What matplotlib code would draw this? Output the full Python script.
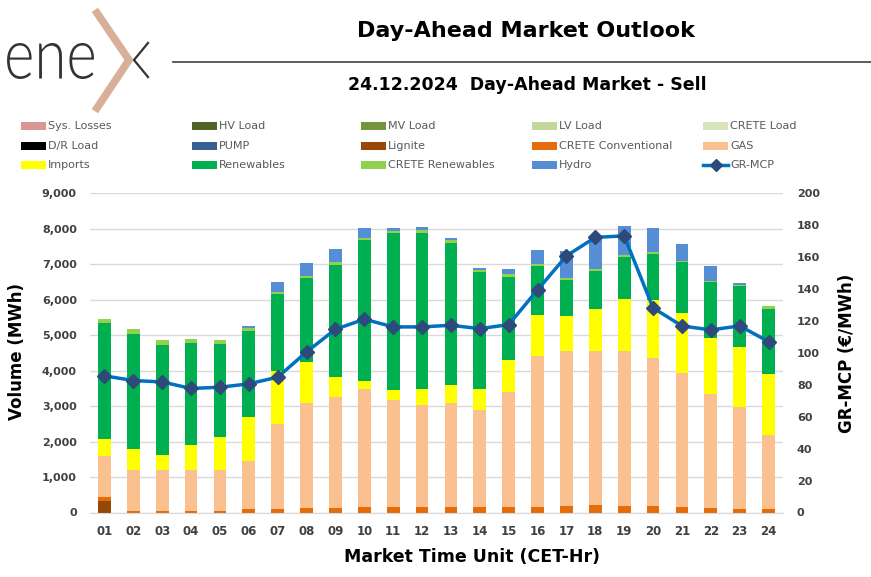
import matplotlib
matplotlib.use("Agg")
import matplotlib.pyplot as plt
import numpy as np
from matplotlib.patches import Rectangle, PathPatch
from matplotlib.lines import Line2D
from matplotlib.textpath import TextPath
from matplotlib.font_manager import FontProperties
from matplotlib.transforms import Affine2D

# Market time units (hours)
hours = ["%02d" % h for h in range(1, 25)]

# Volumes in MWh per category (stacked bottom -> top)
sys_losses = [0] * 24
hv_load = [0] * 24
mv_load = [0] * 24
lv_load = [0] * 24
crete_load = [0] * 24
dr_load = [0] * 24
pump = [0] * 24
lignite = [330] + [0] * 23
crete_conv = [110, 45, 45, 45, 45, 85, 95, 120, 130, 150, 145, 145,
              145, 145, 150, 160, 190, 205, 190, 190, 160, 140, 95, 95]
gas = [1140, 1150, 1150, 1150, 1150, 1380, 2400, 2970, 3120, 3320, 3020, 2880,
       2940, 2750, 3260, 4260, 4350, 4350, 4360, 4160, 3770, 3200, 2870, 2090]
imports = [500, 600, 420, 710, 930, 1240, 1490, 1150, 570, 230, 290, 460,
           500, 590, 890, 1150, 1010, 1180, 1480, 1640, 1690, 1590, 1710, 1710]
renewables = [3260, 3250, 3120, 2880, 2640, 2420, 2180, 2380, 3170, 3970, 4420, 4390,
              4010, 3300, 2350, 1380, 1000, 1070, 1180, 1300, 1430, 1560, 1700, 1850]
crete_ren = [120, 120, 130, 100, 100, 75, 65, 60, 65, 65, 65, 80,
             75, 65, 65, 60, 60, 60, 50, 60, 50, 50, 40, 65]
hydro = [0, 10, 0, 0, 0, 55, 265, 365, 365, 290, 95, 85,
         65, 55, 160, 395, 770, 915, 815, 675, 480, 415, 55, 0]

# GR-MCP price in EUR/MWh
gr_mcp = [85.6, 82.7, 81.8, 77.7, 78.5, 80.6, 84.8, 100.6, 114.8, 121.1, 116.3, 116.3,
          117.3, 115.2, 117.7, 139.5, 160.8, 172.4, 173.3, 128.2, 116.9, 114.4, 116.9, 107.1]

series = [
    ("Sys. Losses", sys_losses, "#DA9694"),
    ("HV Load", hv_load, "#4F6228"),
    ("MV Load", mv_load, "#77933C"),
    ("LV Load", lv_load, "#C3D69B"),
    ("CRETE Load", crete_load, "#D7E4BD"),
    ("D/R Load", dr_load, "#000000"),
    ("PUMP", pump, "#376092"),
    ("Lignite", lignite, "#974706"),
    ("CRETE Conventional", crete_conv, "#E46C0A"),
    ("GAS", gas, "#FAC090"),
    ("Imports", imports, "#FFFF00"),
    ("Renewables", renewables, "#00B050"),
    ("CRETE Renewables", crete_ren, "#92D050"),
    ("Hydro", hydro, "#558ED5"),
]
line_color = "#0070C0"
marker_color = "#2E4A7A"
tick_color = "#404040"

W, H = 871, 577
fig = plt.figure(figsize=(W / 100, H / 100), dpi=100)


def fx(px):
    return px / W


def fy(py):
    return 1 - py / H


# ---- main axes ----
ax = fig.add_axes([fx(90), fy(512.5), fx(783) - fx(90), fy(193.3) - fy(512.5)])
x = np.arange(len(hours))
bottom = np.zeros(len(hours))
for name, vals, col in series:
    vals = np.array(vals, dtype=float)
    ax.bar(x, vals, width=0.44, bottom=bottom, color=col, linewidth=0, zorder=2)
    bottom += vals

ax.set_xlim(-0.5, 23.5)
ax.set_ylim(0, 9000)
ax.set_yticks(np.arange(0, 9001, 1000))
ax.set_yticklabels(["{:,}".format(v) for v in range(0, 9001, 1000)])
ax.set_xticks(x)
ax.set_xticklabels(hours)
ax.yaxis.grid(True, color="#D9D9D9", linewidth=1)
ax.set_axisbelow(True)
for s in ["top", "left", "right"]:
    ax.spines[s].set_visible(False)
ax.spines["bottom"].set_color("#D9D9D9")
ax.tick_params(axis="y", length=0, pad=9.5, labelsize=8, labelcolor=tick_color)
ax.tick_params(axis="x", length=0, pad=9, labelsize=8.5, labelcolor=tick_color)
for lab in ax.get_xticklabels() + ax.get_yticklabels():
    lab.set_fontweight("bold")

ax2 = ax.twinx()
ax2.plot(x, gr_mcp, color=line_color, linewidth=2.5, marker="D", markersize=7,
         markerfacecolor=marker_color, markeredgecolor=marker_color, zorder=5)
ax2.set_ylim(0, 200)
ax2.set_yticks(np.arange(0, 201, 20))
for s in ["top", "left", "right", "bottom"]:
    ax2.spines[s].set_visible(False)
ax2.tick_params(axis="y", length=0, pad=10, labelsize=8, labelcolor=tick_color)
for lab in ax2.get_yticklabels():
    lab.set_fontweight("bold")

# axis titles
fig.text(fx(17), fy(352), "Volume (MWh)", rotation=90, ha="center", va="center",
         fontsize=12, fontweight="bold")
fig.text(fx(847), fy(353), "GR-MCP (€/MWh)", rotation=90, ha="center", va="center",
         fontsize=12, fontweight="bold")
fig.text(fx(472), fy(557), "Market Time Unit (CET-Hr)", ha="center", va="center",
         fontsize=12.5, fontweight="bold")

# ---- header ----
fig.text(fx(526), fy(31), "Day-Ahead Market Outlook", ha="center", va="center",
         fontsize=16, fontweight="bold")
fig.text(fx(527), fy(85), "24.12.2024  Day-Ahead Market - Sell", ha="center", va="center",
         fontsize=12.5, fontweight="bold")
fig.add_artist(Line2D([fx(173), fx(871)], [fy(62), fy(62)], color="#404040", linewidth=1.2))

# logo: "ene" + chevron x
tp = TextPath((0, 0), "ene", size=100, prop=FontProperties(family="Lato", weight=300))
v = tp.vertices
x0, x1 = v[:, 0].min(), v[:, 0].max()
y0, y1 = v[:, 1].min(), v[:, 1].max()
tr = Affine2D().translate(-x0, -y0).scale(90 / (x1 - x0), 36 / (y1 - y0)).translate(4, H - 79)
fig.add_artist(PathPatch(tp, transform=tr, facecolor="#333333", edgecolor="none"))
fig.add_artist(Line2D([fx(97), fx(129), fx(97)], [fy(13), fy(60), fy(108)],
                      color="#D8B09A", linewidth=5.5, solid_joinstyle="miter"))
fig.add_artist(Line2D([fx(148), fx(134), fx(148)], [fy(43), fy(60), fy(77)],
                      color="#333333", linewidth=1.6))

# ---- legend (5 columns x 3 rows) ----
col_x = [21, 192, 361, 532, 703]
row_y = [126, 146, 165]
entries = [(name, col) for name, _, col in series] + [("GR-MCP", None)]
for i, (name, col) in enumerate(entries):
    px = col_x[i % 5]
    py = row_y[i // 5]
    if col is None:
        fig.add_artist(Line2D([fx(px), fx(px + 25)], [fy(py), fy(py)], color=line_color,
                              linewidth=2.5))
        fig.add_artist(Line2D([fx(px + 12.5)], [fy(py)], marker="D", markersize=6.5,
                              color=marker_color))
    else:
        fig.add_artist(Rectangle((fx(px), fy(py + 4)), fx(25), 8 / H, facecolor=col,
                                 edgecolor="none", transform=fig.transFigure))
    fig.text(fx(px + 27), fy(py), name, ha="left", va="center", fontsize=8, color="#595959")

fig.savefig("out.png", dpi=100)
